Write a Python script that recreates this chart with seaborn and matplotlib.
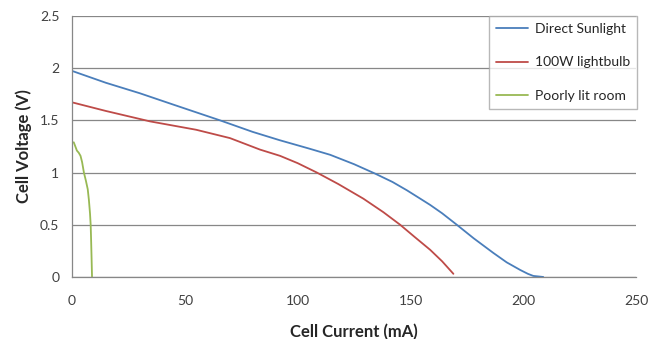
import matplotlib
matplotlib.use("Agg")
import matplotlib.pyplot as plt
import numpy as np
import pandas as pd
import seaborn as sns

# I-V curves
sun_current = [0.5, 15, 30, 45, 65.6, 80, 92, 105, 114.4, 125, 134.3, 142, 148.4, 154.3, 158.7,
               164, 170.5, 178, 186.7, 192.6, 198.6, 202, 204.4, 208.8]
sun_voltage = [1.97, 1.86, 1.76, 1.65, 1.50, 1.39, 1.31, 1.23, 1.17, 1.08, 0.99, 0.91, 0.83, 0.75, 0.69,
               0.61, 0.50, 0.37, 0.23, 0.14, 0.067, 0.03, 0.01, 0.0]

bulb_current = [0.5, 15, 34.6, 55, 70, 83.3, 92.2, 100, 108.5, 118, 129.1, 138, 145.4, 152, 158.7, 164, 169]
bulb_voltage = [1.67, 1.59, 1.49, 1.41, 1.33, 1.22, 1.16, 1.09, 1.00, 0.89, 0.75, 0.62, 0.50, 0.38, 0.26, 0.15, 0.03]

dim_current = [0.8, 1.5, 2.2, 3.0, 3.8, 4.5, 5.3, 6.2, 7.0, 7.5, 8.0, 8.3, 8.5, 8.7, 8.9]
dim_voltage = [1.29, 1.25, 1.21, 1.19, 1.16, 1.10, 1.00, 0.92, 0.84, 0.74, 0.61, 0.50, 0.35, 0.18, 0.0]

series_names = ["Direct Sunlight", "100W lightbulb", "Poorly lit room"]
series_colors = ["#4A7EBB", "#BE4B48", "#98B954"]

x_ticks = [0, 50, 100, 150, 200, 250]
y_ticks = [0, 0.5, 1, 1.5, 2, 2.5]
y_tick_labels = ["0", "0.5", "1", "1.5", "2", "2.5"]

sns.set_theme(style="white")
plt.rcParams["font.family"] = ["Lato", "DejaVu Sans"]

frames = []
for name, xs, ys in zip(series_names,
                        [sun_current, bulb_current, dim_current],
                        [sun_voltage, bulb_voltage, dim_voltage]):
    frames.append(pd.DataFrame({"current": xs, "voltage": ys, "series": name}))
df = pd.concat(frames, ignore_index=True)

fig = plt.figure(figsize=(6.6, 3.39), dpi=100)
ax = fig.add_axes([0.109, 0.183, 0.855, 0.770])

sns.lineplot(data=df, x="current", y="voltage", hue="series",
             palette=dict(zip(series_names, series_colors)),
             estimator=None, sort=False, linewidth=1.3, ax=ax)

grid_c = "#878787"
ax.set_xlim(0, 250)
ax.set_ylim(0, 2.5)
ax.set_xticks(x_ticks)
ax.set_yticks(y_ticks)
ax.set_xticklabels([str(t) for t in x_ticks])
ax.set_yticklabels(y_tick_labels)
ax.yaxis.grid(True, color=grid_c, linewidth=0.9)
ax.set_axisbelow(True)
for s in ["top", "right"]:
    ax.spines[s].set_visible(False)
for s in ["left", "bottom"]:
    ax.spines[s].set_color(grid_c)
    ax.spines[s].set_linewidth(0.9)
ax.tick_params(axis="both", direction="out", length=5, width=0.9, color=grid_c,
               labelsize=10, labelcolor="#404040")
ax.tick_params(axis="x", pad=8)
ax.tick_params(axis="y", pad=4)

ax.set_xlabel("Cell Current (mA)", fontsize=12, fontweight="bold", labelpad=12)
ax.set_ylabel("Cell Voltage (V)", fontsize=12, fontweight="bold", labelpad=6)

leg = ax.legend(loc="upper right", bbox_to_anchor=(1.002, 1.0), borderaxespad=0,
                frameon=True, fancybox=False, fontsize=10, labelspacing=1.55,
                handlelength=2.3, handletextpad=0.5, borderpad=0.5)
leg.get_frame().set_edgecolor("#A6A6A6")
leg.get_frame().set_linewidth(1.0)
for t in leg.get_texts():
    t.set_color("#262626")

fig.savefig("out.png", dpi=100)
